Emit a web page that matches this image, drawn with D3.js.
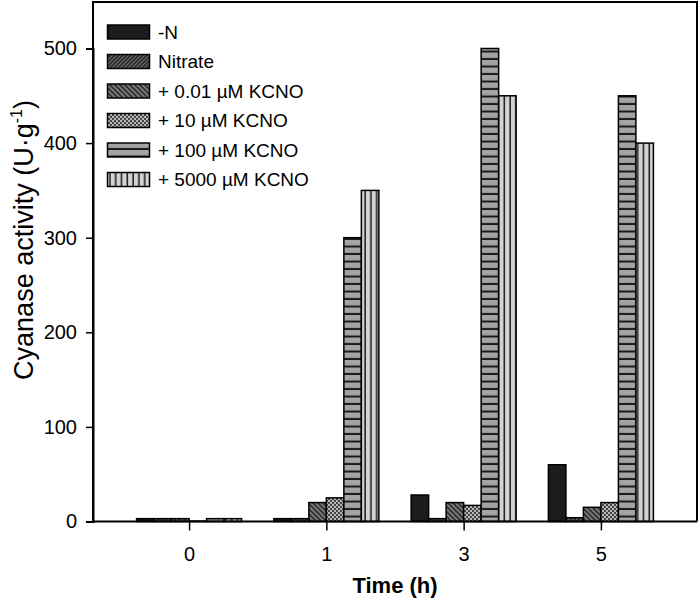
<!DOCTYPE html>
<html><head><meta charset="utf-8">
<script src="https://cdn.jsdelivr.net/npm/d3@7/dist/d3.min.js"></script>
<style>body{margin:0;background:#fff}svg{display:block;font-family:"Liberation Sans",Arial,sans-serif}</style>
</head><body><svg id="c" width="700" height="610"></svg>
<script>
const times = ["0","1","3","5"];
const seriesNames = ["-N","Nitrate","+ 0.01 \u00B5M KCNO","+ 10 \u00B5M KCNO","+ 100 \u00B5M KCNO","+ 5000 \u00B5M KCNO"];
const valN      = [3, 3, 28, 60];
const valNitrate= [3, 3, 3, 4];
const val001    = [3, 20, 20, 15];
const val10     = [0.5, 25, 17, 20];
const val100    = [3, 300, 500, 450];
const val5000   = [3, 350, 450, 400];
const yTicks = [0,100,200,300,400,500];
const seriesVals = [valN, valNitrate, val001, val10, val100, val5000];

const svg = d3.select("#c");
const L=93, R=697, T=2, B=521.5;
const x = d3.scalePoint().domain(times).range([L,R]).padding(0.7);
const y = d3.scaleLinear().domain([0,500]).range([B,48.5]);
const inner = d3.scaleBand().domain(d3.range(6)).range([-52.5,52.5]).padding(0);

const defs = svg.append("defs");
let p = defs.append("pattern").attr("id","p1").attr("patternUnits","userSpaceOnUse").attr("width",4).attr("height",4);
p.append("rect").attr("width",4).attr("height",4).attr("fill","#2a2a2a");
p.append("path").attr("d","M-1,1 l2,-2 M0,4 l4,-4 M3,5 l2,-2").attr("stroke","#6e6e6e").attr("stroke-width",1.1);
p = defs.append("pattern").attr("id","p2").attr("patternUnits","userSpaceOnUse").attr("width",5).attr("height",5);
p.append("rect").attr("width",5).attr("height",5).attr("fill","#7a7a7a");
p.append("path").attr("d","M-1,4 l2,2 M0,0 l5,5 M4,-1 l2,2").attr("stroke","#2e2e2e").attr("stroke-width",1.6);
p = defs.append("pattern").attr("id","p3").attr("patternUnits","userSpaceOnUse").attr("width",4).attr("height",4);
p.append("rect").attr("width",4).attr("height",4).attr("fill","#444");
p.append("rect").attr("width",2).attr("height",2).attr("fill","#b8b8b8");
p.append("rect").attr("x",2).attr("y",2).attr("width",2).attr("height",2).attr("fill","#b8b8b8");
p = defs.append("pattern").attr("id","p4").attr("patternUnits","userSpaceOnUse").attr("width",8).attr("height",7.5);
p.append("rect").attr("width",8).attr("height",7.5).attr("fill","#a4a4a4");
p.append("rect").attr("y",5.5).attr("width",8).attr("height",2).attr("fill","#1a1a1a");
p = defs.append("pattern").attr("id","p5").attr("patternUnits","userSpaceOnUse").attr("width",5.8).attr("height",8).attr("x",0.5);
p.append("rect").attr("width",5.8).attr("height",8).attr("fill","#d2d2d2");
p.append("rect").attr("x",4.3).attr("width",1.5).attr("height",8).attr("fill","#1a1a1a");

const fills = ["#1c1c1c","url(#p1)","url(#p2)","url(#p3)","url(#p4)","url(#p5)"];

const g = svg.append("g");
seriesVals.forEach((vals,s)=>{
  g.selectAll(null).data(times.map((t,i)=>({t,v:vals[i]}))).enter().append("rect")
   .attr("x",d=>x(d.t)+inner(s))
   .attr("width",inner.bandwidth())
   .attr("y",d=>y(d.v))
   .attr("height",d=>B-y(d.v))
   .attr("fill",fills[s]).attr("stroke","#000").attr("stroke-width",1.5);
});

svg.append("path").attr("d",`M${L},${B} V${T} H${R} V${B}`).attr("fill","none").attr("stroke","#000").attr("stroke-width",2);

const ya = svg.append("g").attr("transform",`translate(${L},0)`)
  .call(d3.axisLeft(y).tickValues(yTicks).tickSize(7).tickPadding(9).tickFormat(d3.format("d")));
const xa = svg.append("g").attr("transform",`translate(0,${B})`)
  .call(d3.axisBottom(x).tickSize(9).tickPadding(16));
[ya,xa].forEach(a=>{
  a.select(".domain").attr("stroke","#000").attr("stroke-width",2);
  a.selectAll(".tick line").attr("stroke","#000").attr("stroke-width",1.5);
  a.selectAll("text").attr("font-family","'Liberation Sans',Arial,sans-serif").attr("font-size",20).attr("fill","#000");
});
xa.select(".domain").attr("d",`M${L},0H${R}`);

svg.append("text").attr("x",(L+R)/2).attr("y",593).attr("text-anchor","middle")
  .attr("font-size",22).attr("font-weight","bold").text("Time (h)");
const yt = svg.append("text").attr("transform","translate(33,240) rotate(-90)").attr("text-anchor","middle").attr("font-size",27);
yt.append("tspan").text("Cyanase activity (U\u00B7g");
yt.append("tspan").attr("font-size",16).attr("baseline-shift","70%").text("-1");
yt.append("tspan").text(")");

const lg = svg.append("g");
seriesNames.forEach((n,i)=>{
  const cy = 32 + 29.5*i;
  lg.append("rect").attr("x",107.5).attr("y",cy-7).attr("width",42).attr("height",14)
    .attr("fill",fills[i]).attr("stroke","#000").attr("stroke-width",1.5);
  lg.append("text").attr("x",158).attr("y",cy).attr("dy","0.36em").attr("font-size",19).text(n);
});
</script></body></html>
